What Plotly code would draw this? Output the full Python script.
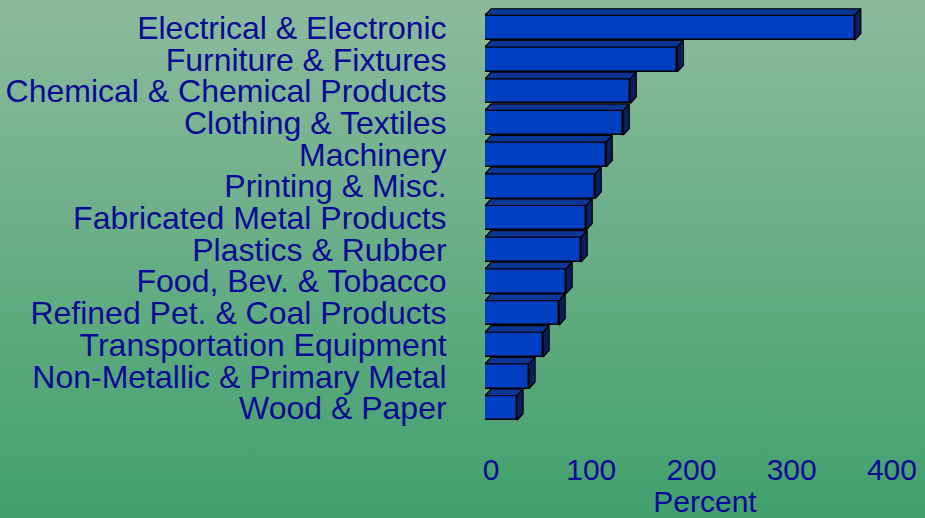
import base64

import plotly.graph_objects as go

# industries, top to bottom
categories = [
    "Electrical & Electronic",
    "Furniture & Fixtures",
    "Chemical & Chemical Products",
    "Clothing & Textiles",
    "Machinery",
    "Printing & Misc.",
    "Fabricated Metal Products",
    "Plastics & Rubber",
    "Food, Bev. & Tobacco",
    "Refined Pet. & Coal Products",
    "Transportation Equipment",
    "Non-Metallic & Primary Metal",
    "Wood & Paper",
]
percent = [369, 192, 145, 138, 121, 110, 101, 96, 81, 74, 58, 44, 32]
x_ticks = [0, 100, 200, 300, 400]

BLUE_TEXT = "#0A0A96"
FRONT = "#0040C0"
TOP = "#0A3694"
SIDE = "#06205E"
FONT = "Arial, Liberation Sans, sans-serif"

W, H = 925, 518
L, R, T, B = 485, 0, 4, 91

# fake 3d depth: dx in data units (x), dy in category units (y)
bar_h = 0.78
dx = 6
dy = 0.21

ypos = list(range(len(categories)))

fig = go.Figure()

fig.add_trace(
    go.Bar(
        x=percent,
        y=ypos,
        orientation="h",
        width=bar_h,
        marker={"color": FRONT, "line": {"color": "black", "width": 1.5}},
        showlegend=False,
        hoverinfo="skip",
    )
)

# top and side faces built from the bar values
top_x, top_y, side_x, side_y = [], [], [], []
for i, v in zip(ypos, percent):
    y0 = i - bar_h / 2
    y1 = i + bar_h / 2
    top_x += [0, dx, v + dx, v, 0, None]
    top_y += [y0, y0 - dy, y0 - dy, y0, y0, None]
    side_x += [v, v + dx, v + dx, v, v, None]
    side_y += [y0, y0 - dy, y1 - dy, y1, y0, None]

for xs, ys, col in [(top_x, top_y, TOP), (side_x, side_y, SIDE)]:
    fig.add_trace(
        go.Scatter(
            x=xs,
            y=ys,
            mode="lines",
            fill="toself",
            fillcolor=col,
            line={"color": "black", "width": 1.2},
            showlegend=False,
            hoverinfo="skip",
        )
    )

# background gradient as an inline svg image (a little oversized so no edge shows)
svg = (
    f'<svg xmlns="http://www.w3.org/2000/svg" width="{W}" height="{H}">'
    '<defs><linearGradient id="g" x1="0" y1="0" x2="0" y2="1">'
    '<stop offset="0" stop-color="#8DBB9D"/>'
    '<stop offset="1" stop-color="#41A06D"/>'
    "</linearGradient></defs>"
    f'<rect width="{W}" height="{H}" fill="url(#g)"/></svg>'
)
src = "data:image/svg+xml;base64," + base64.b64encode(svg.encode()).decode()
pw = W - L - R
ph = H - T - B
pad = 4
fig.add_layout_image(
    source=src,
    xref="paper",
    yref="paper",
    x=-(L + pad) / pw,
    y=1 + (T + pad) / ph,
    sizex=(W + 2 * pad) / pw,
    sizey=(H + 2 * pad) / ph,
    xanchor="left",
    yanchor="top",
    sizing="stretch",
    layer="below",
)

fig.update_layout(
    width=W,
    height=H,
    margin={"l": L, "r": R, "t": T, "b": B},
    paper_bgcolor="#41A06D",
    plot_bgcolor="rgba(0,0,0,0)",
    font={"family": FONT, "color": BLUE_TEXT, "size": 30},
    bargap=0,
)

fig.update_xaxes(
    range=[0, 439],
    tickvals=x_ticks,
    ticks="outside",
    ticklen=16,
    tickcolor="rgba(0,0,0,0)",
    ticklabelshift=6,
    tickfont={"size": 30, "color": BLUE_TEXT},
    showgrid=False,
    zeroline=False,
    showline=False,
    automargin=False,
    title={"text": "Percent", "font": {"size": 30, "color": BLUE_TEXT}, "standoff": 24},
)

fig.update_yaxes(
    range=[12.6, -0.75],
    tickvals=ypos,
    ticktext=categories,
    ticks="outside",
    ticklen=31,
    tickcolor="rgba(0,0,0,0)",
    tickfont={"size": 32, "color": BLUE_TEXT},
    showgrid=False,
    zeroline=False,
    showline=False,
    automargin=False,
)

fig.write_html(
    "out.html",
    config={"displayModeBar": False},
    post_script="document.body.style.margin='0';",
)
